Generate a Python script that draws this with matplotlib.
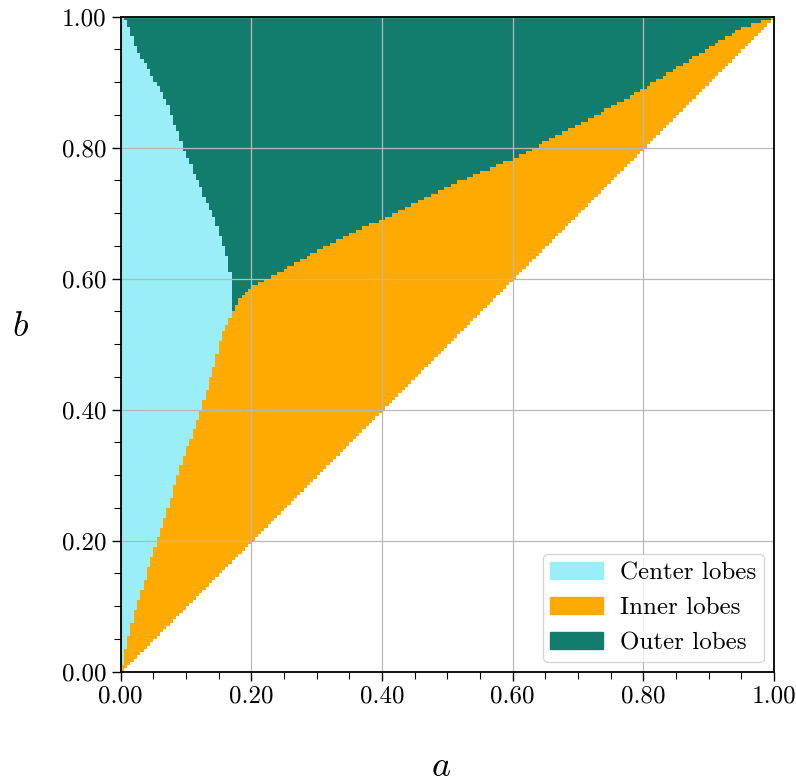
import matplotlib
matplotlib.use('Agg')
import matplotlib.pyplot as plt
import numpy as np
from matplotlib.colors import ListedColormap
from matplotlib.patches import Patch
from matplotlib.ticker import FormatStrFormatter, MultipleLocator

plt.rcParams['font.family'] = 'serif'
plt.rcParams['font.serif'] = ['cmr10']
plt.rcParams['mathtext.fontset'] = 'cm'
plt.rcParams['axes.formatter.use_mathtext'] = True

# boundary between center and inner lobes (a as function of b)
ci_b = [0.0, 0.02, 0.10, 0.20, 0.30, 0.40, 0.42, 0.47, 0.52, 0.55]
ci_a = [0.0, 0.004, 0.024, 0.056, 0.088, 0.122, 0.129, 0.144, 0.157, 0.172]
# boundary between center and outer lobes (a as function of b)
co_b = [0.55, 0.60, 0.645, 0.69, 0.72, 0.80, 0.875, 0.95, 0.987, 1.0]
co_a = [0.172, 0.170, 0.160, 0.144, 0.130, 0.096, 0.068, 0.025, 0.012, 0.005]
# boundary between inner and outer lobes (b as function of a)
io_a = [0.172, 0.18, 0.20, 0.243, 0.304, 0.40, 0.496, 0.593, 0.70, 0.80, 0.887, 0.948, 1.0]
io_b = [0.55, 0.568, 0.588, 0.609, 0.645, 0.691, 0.739, 0.780, 0.834, 0.89, 0.944, 0.982, 1.0]

labels = ['Center lobes', 'Inner lobes', 'Outer lobes']
colors = ['#99eef8', '#ffaa00', '#137d6d']

n = 200
edges = np.linspace(0, 1, n + 1)
mid = (edges[:-1] + edges[1:]) / 2
A, B = np.meshgrid(mid, mid)

lim_ci = np.interp(B, ci_b, ci_a)
lim_co = np.interp(B, co_b, co_a)
lim_io = np.interp(A, io_a, io_b)
center = np.where(B <= 0.55, A < lim_ci, A < lim_co)

Z = np.zeros_like(A)  # 0 = empty
Z[B + 0.5 / n >= A] = 2
Z[(Z == 2) & (B >= lim_io)] = 3
Z[(Z > 0) & center] = 1

fig = plt.figure(figsize=(7.96, 7.82), dpi=100)
ax = fig.add_axes([0.1516, 0.141, 0.8208, 0.8376])
cmap = ListedColormap(['white'] + colors)
ax.pcolormesh(edges, edges, Z, cmap=cmap, vmin=-0.5, vmax=3.5)

ax.set_xlim(0, 1)
ax.set_ylim(0, 1)
ax.xaxis.set_major_locator(MultipleLocator(0.2))
ax.yaxis.set_major_locator(MultipleLocator(0.2))
ax.xaxis.set_minor_locator(MultipleLocator(0.05))
ax.yaxis.set_minor_locator(MultipleLocator(0.05))
ax.xaxis.set_major_formatter(FormatStrFormatter('%.2f'))
ax.yaxis.set_major_formatter(FormatStrFormatter('%.2f'))
ax.tick_params(which='major', direction='out', length=6.5, width=1, labelsize=18)
ax.tick_params(which='minor', direction='out', length=5, width=0.8)
ax.grid(True, which='major', color='#b8b8b8', linewidth=0.9)
for s in ax.spines.values():
    s.set_linewidth(1.3)

ax.set_xlabel('$a$', fontsize=26, va='center')
ax.set_ylabel('$b$', fontsize=26, rotation=0, va='center', ha='center')
ax.xaxis.set_label_coords(0.49, -0.146)
ax.yaxis.set_label_coords(-0.154, 0.526)

handles = [Patch(color=c, label=l) for c, l in zip(colors, labels)]
ax.legend(handles=handles, loc='lower right', fontsize=18, handlelength=2.1,
          handleheight=0.7, handletextpad=0.7, borderpad=0.3,
          labelspacing=0.5, borderaxespad=0.4)

fig.savefig('out.png', dpi=100)
